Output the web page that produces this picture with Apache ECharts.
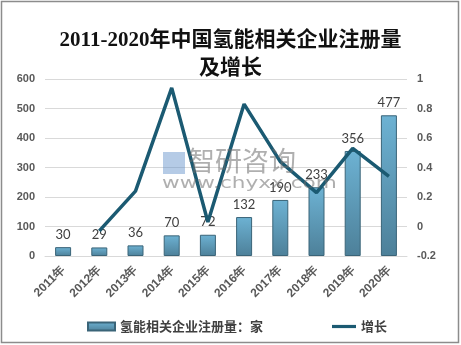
<!DOCTYPE html>
<html><head><meta charset="utf-8">
<script src="https://cdn.jsdelivr.net/npm/echarts@6/dist/echarts.min.js"></script>
<style>html,body{margin:0;padding:0;background:#fff}#c{width:461px;height:345px}</style>
</head><body><div id="c"></div>
<script>
var categories = ['2011年','2012年','2013年','2014年','2015年','2016年','2017年','2018年','2019年','2020年'];
var registrations = [30, 29, 36, 70, 72, 132, 190, 233, 356, 477];
var growth = [null, -0.03, 0.24, 0.94, 0.03, 0.83, 0.44, 0.23, 0.53, 0.34];
var leftTicks = {min: 0, max: 600, interval: 100};
var rightTicks = {min: -0.2, max: 1, interval: 0.2};
var barName = '氢能相关企业注册量：家';
var lineName = '增长';

var chart = echarts.init(document.getElementById('c'));
var axisLabelStyle = {color: '#595959', fontSize: 11, fontWeight: 'bold', fontFamily: 'Liberation Sans, Arial, sans-serif'};
chart.setOption({
  animation: false,
  title: {
    text: '2011-2020年中国氢能相关企业注册量\n及增长',
    left: 'center', top: 22,
    textStyle: {fontSize: 21, fontWeight: 'bold', color: '#111', lineHeight: 28,
      fontFamily: '"Liberation Serif", "DejaVu Serif", "Noto Sans CJK SC", serif'}
  },
  graphic: [
    {type: 'rect', shape: {x: 1.5, y: 1.5, width: 457, height: 341}, style: {fill: 'none', stroke: '#8c8c8c', lineWidth: 1.5}, silent: true},
    {type: 'text', left: 188, top: 147, z: 100, style: {text: '智研咨询', fill: 'rgba(110,110,110,0.55)', font: '27px "Noto Sans CJK SC"'}},
    {type: 'text', x: 162, y: 176, scaleX: 1.35, z: 100, style: {text: 'www.chyxx.com', fill: 'rgba(110,110,110,0.55)', font: '16px "DejaVu Sans"'}},
    {type: 'rect', shape: {x: 163, y: 152, width: 22, height: 22}, z: 100, style: {fill: 'rgba(90,140,200,0.45)'}}
  ],
  legend: [
    {data: [{name: barName, icon: 'rect'}], left: 82, top: 315, itemWidth: 27, itemHeight: 8, itemGap: 4,
     textStyle: {fontSize: 13, fontWeight: 'bold', color: '#404040', fontFamily: '"Noto Sans CJK SC"'}},
    {data: [{name: lineName, icon: 'path://M0,0 L30,0 L30,4 L0,4 Z'}], left: 327, top: 315, itemWidth: 24, itemHeight: 4, itemGap: 3,
     textStyle: {fontSize: 13, fontWeight: 'bold', color: '#404040', fontFamily: '"Noto Sans CJK SC"'}}
  ],
  grid: {left: 45, right: 54, top: 79, bottom: 89},
  xAxis: {
    type: 'category', data: categories,
    axisLine: {lineStyle: {color: '#d9d9d9'}}, axisTick: {show: false},
    axisLabel: Object.assign({}, axisLabelStyle, {rotate: 45, margin: 12, interval: 0, fontSize: 12})
  },
  yAxis: [
    {type: 'value', min: leftTicks.min, max: leftTicks.max, interval: leftTicks.interval,
     axisLine: {show: false}, axisTick: {show: false},
     splitLine: {lineStyle: {color: '#d9d9d9'}},
     axisLabel: Object.assign({margin: 10}, axisLabelStyle)},
    {type: 'value', min: rightTicks.min, max: rightTicks.max, interval: rightTicks.interval,
     axisLine: {show: false}, axisTick: {show: false}, splitLine: {show: false},
     axisLabel: Object.assign({margin: 10, formatter: function(v){return String(Math.round(v*10)/10);}}, axisLabelStyle)}
  ],
  series: [
    {name: barName, type: 'bar', data: registrations, barWidth: 16,
     itemStyle: {
       color: new echarts.graphic.LinearGradient(0, 0, 0, 1, [{offset: 0, color: '#6db2d3'}, {offset: 1, color: '#4d8099'}]),
       borderColor: '#3a6478', borderWidth: 1
     },
     label: {show: true, position: 'top', distance: 6, color: '#404040', fontSize: 13, fontFamily: 'Lato, "Open Sans", sans-serif'}
    },
    {name: lineName, type: 'line', yAxisIndex: 1, data: growth, showSymbol: false, symbol: 'none',
     lineStyle: {color: '#1b5a72', width: 3.5}, itemStyle: {color: '#1b5a72'}, z: 5}
  ]
});
</script></body></html>
